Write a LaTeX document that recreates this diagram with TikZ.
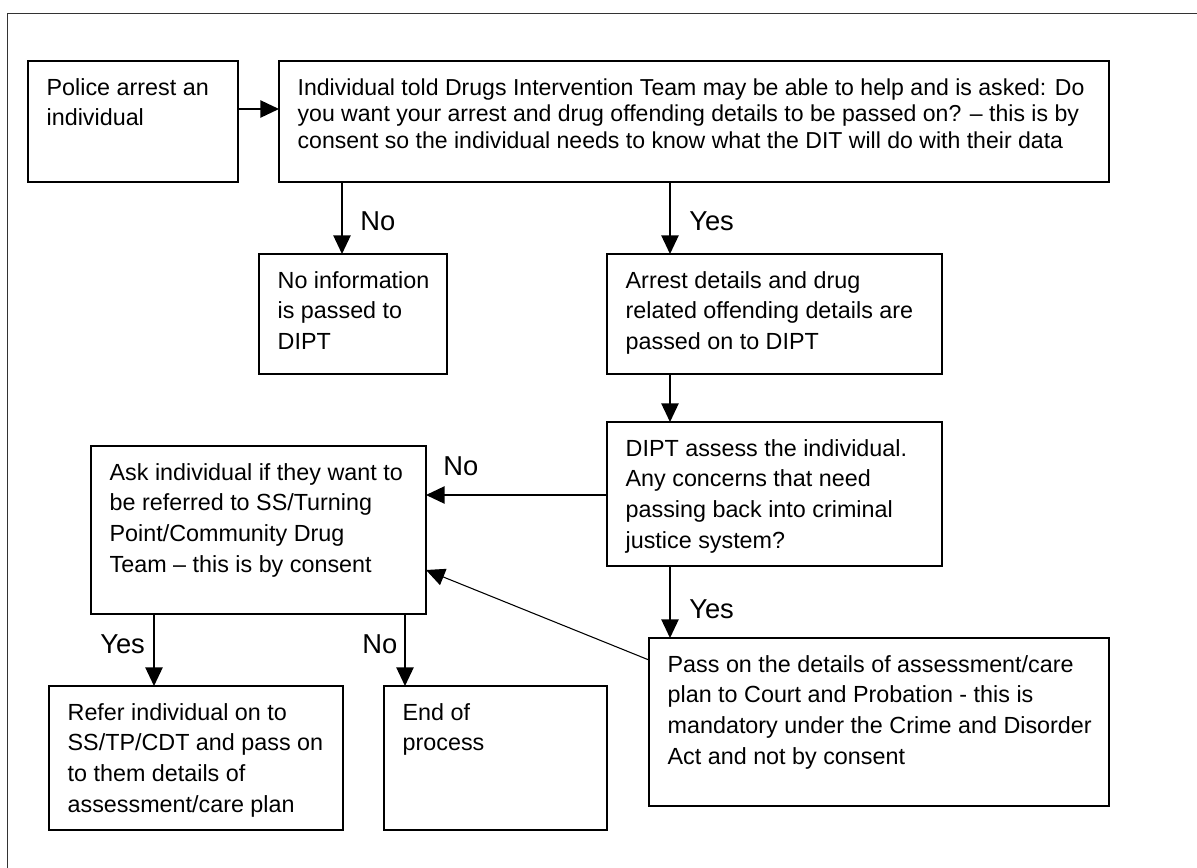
\documentclass[tikz,border=0pt]{standalone}
\usepackage{fontspec}
\setmainfont{Liberation Sans}
\usetikzlibrary{arrows.meta}

\newlength\px
\setlength\px{0.75pt}
% text set at the top left of a fixed size box
\newcommand{\flowtext}[3]{\parbox[c][#2][t]{#1}{\leftskip=14pt\rightskip=0pt plus 1fil\parindent=0pt\rule{0pt}{25.5pt}#3}}

\tikzset{
  flow/.style={draw, line width=1.1pt, anchor=north west, inner sep=0pt, outer sep=0pt},
  arr/.style={-{Triangle[length=14pt,width=13pt]}, line width=1.1pt},
  lbl/.style={anchor=base west, inner sep=0pt, font=\fontsize{20.5pt}{24pt}\selectfont},
  frame/.style={line width=0.8pt, draw=black!80}
}

\begin{document}
\begin{tikzpicture}[x=0.75pt, y=-0.75pt, font=\fontsize{17.5pt}{23.1pt}\selectfont]
\useasboundingbox (0,0) rectangle (1197,868);

%Frame
\draw[frame] (1197,13.5) -- (7.5,13.5) -- (7.5,868);

%Arrest and consent
\node[flow] (police) at (28,61) {\flowtext{210\px}{121\px}{Police arrest an\\individual}};
\node[flow, font=\fontsize{17.3pt}{20.1pt}\selectfont] (ind) at (279,61) {\flowtext{830\px}{121\px}{Individual told Drugs Intervention Team may be able to help and is asked: Do\\you want your arrest and drug offending details to be passed on? – this is by\\consent so the individual needs to know what the DIT will do with their data}};

%No / Yes
\node[flow] (noinfo) at (259,254) {\flowtext{188\px}{120\px}{No information\\is passed to\\DIPT}};
\node[flow] (arrest) at (607,254) {\flowtext{335\px}{120\px}{Arrest details and drug\\related offending details are\\passed on to DIPT}};

%Assessment
\node[flow] (dipt) at (607,422) {\flowtext{335\px}{144\px}{DIPT assess the individual.\\Any concerns that need\\passing back into criminal\\justice system?}};
\node[flow] (ask) at (91,446) {\flowtext{335\px}{168\px}{Ask individual if they want to\\be referred to SS/Turning\\Point/Community Drug\\Team – this is by consent}};
\node[flow] (pass) at (649,638) {\flowtext{460\px}{168\px}{Pass on the details of assessment/care\\plan to Court and Probation - this is\\mandatory under the Crime and Disorder\\Act and not by consent}};

%Referral
\node[flow] (refer) at (49,686) {\flowtext{294\px}{144\px}{Refer individual on to\\SS/TP/CDT and pass on\\to them details of\\assessment/care plan}};
\node[flow] (endp) at (384,686) {\flowtext{223\px}{144\px}{End of\\process}};

%Columns and rows of the arrows
\coordinate (colno) at (342,0);
\coordinate (colyes) at (670,0);
\coordinate (colref) at (154,0);
\coordinate (colend) at (405,0);
\coordinate (rowpol) at (0,109);
\coordinate (rowdipt) at (0,495);

\draw[arr] (police.east |- rowpol) -- (ind.west |- rowpol);
\draw[arr] (ind.south -| colno) -- (noinfo.north -| colno);
\draw[arr] (ind.south -| colyes) -- (arrest.north -| colyes);
\draw[arr] (arrest.south -| colyes) -- (dipt.north -| colyes);
\draw[arr] (dipt.west |- rowdipt) -- (ask.east |- rowdipt);
\draw[arr] (dipt.south -| colyes) -- (pass.north -| colyes);
\draw[arr, line width=0.8pt] ([yshift=-22\px]pass.north west) -- ([yshift=-40\px]ask.east);
\draw[arr] (ask.south -| colref) -- (refer.north -| colref);
\draw[arr] (ask.south -| colend) -- (endp.north -| colend);

%Labels
\node[lbl] (no1) at (360,230) {No};
\node[lbl] (yes1) at (689,230) {Yes};
\node[lbl] (no2) at (443,475) {No};
\node[lbl] (yes2) at (689,618) {Yes};
\node[lbl] (yes3) at (100,653) {Yes};
\node[lbl] (no3) at (362,653) {No};

\end{tikzpicture}
\end{document}
